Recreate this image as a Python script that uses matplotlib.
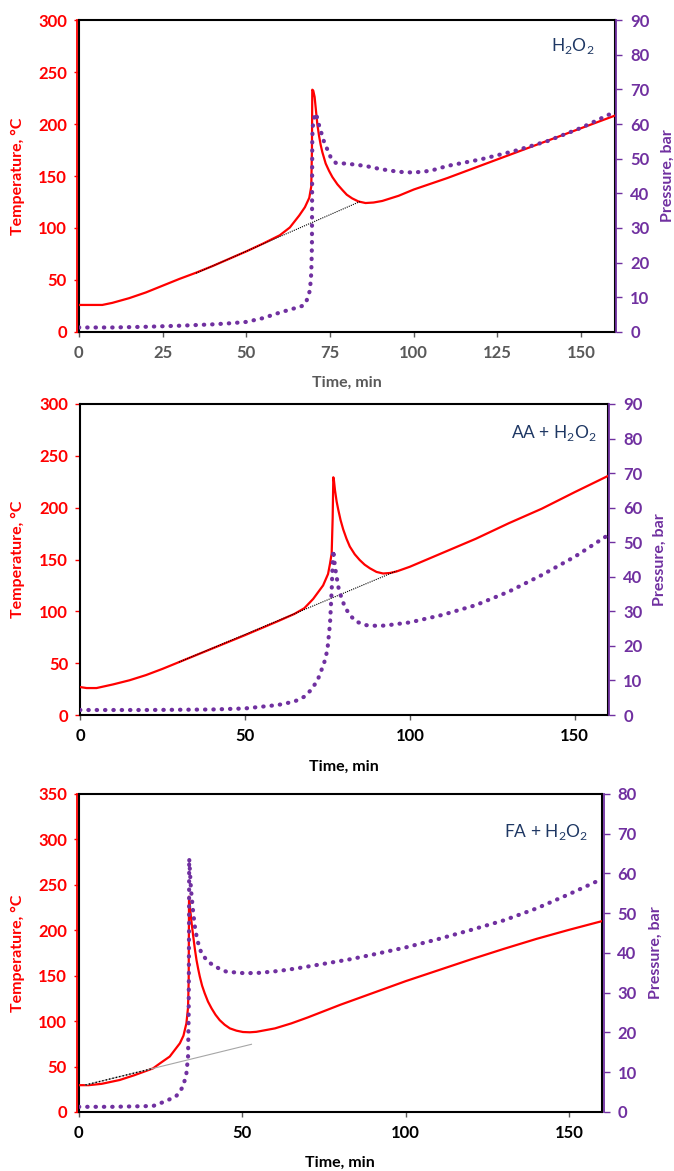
import matplotlib
matplotlib.use("Agg")
import matplotlib.pyplot as plt

RED = '#FF0000'
PURPLE = '#7030A0'
NAVY = '#1F3864'
GREY = '#595959'

# --- panel 1: H2O2 ---
h2o2_t_temp = [0, 7, 10, 15, 20, 25, 30, 35, 40, 45, 50, 55, 60, 63, 65.8, 67.5, 68.8,
               69.4, 69.6, 69.7, 70.0, 70.4, 70.8, 71.2, 71.7, 72.2, 72.7, 73.7, 74.7,
               75.7, 77.2, 78.7, 80, 81.6, 83.5, 85.6, 88, 90.6, 95.5, 100, 110, 120,
               130, 140, 150, 160]
h2o2_temp = [26, 26, 28, 32.5, 38, 44.5, 51, 57, 63.5, 70.5, 77.5, 85, 93, 100.5, 112, 120, 129,
             140, 175, 233, 232, 226, 213, 200, 189, 180, 173, 162, 155,
             149, 142, 136.5, 132, 128.5, 125.5, 124, 124.5, 126, 131, 137, 148, 160,
             172, 184, 196, 208]
h2o2_t_pres = [0, 10, 20, 30, 40, 45, 50, 55, 60, 65, 67, 68, 69.0, 69.4, 69.6, 69.65, 69.7,
               69.8, 70.3, 70.8, 71.7, 73.2, 75.2, 76.7, 80.6, 85.6, 90, 95.5, 100, 105,
               110, 120, 130, 140, 150, 160]
h2o2_pres = [1.3, 1.3, 1.5, 1.8, 2.2, 2.5, 2.9, 4.0, 5.6, 7.0, 7.6, 9.0, 12, 17, 25, 40, 55,
             59, 62, 63.1, 59.7, 54.9, 50.4, 48.8, 48.5, 47.9, 47.0, 46.2, 46.0, 46.5,
             47.9, 49.8, 52.2, 55.1, 58.9, 63.5]
h2o2_base_t = [35, 84]
h2o2_base_temp = [56.5, 125.5]

# --- panel 2: AA + H2O2 ---
aa_t_temp = [0, 2, 5, 10, 15, 20, 25, 30, 40, 50, 60, 65, 68, 70.7, 73.7, 75.2, 75.8, 76.3,
             76.6, 76.8, 77.0, 77.3, 77.8, 78.3, 79, 79.8, 80.8, 81.8, 83.3, 84.8, 86.3,
             87.9, 89.9, 91.9, 94, 96, 100, 110, 120, 130, 140, 150, 160]
aa_temp = [27, 26, 26, 29.5, 33.5, 38.5, 44.5, 51, 64, 77, 90.5, 97.5, 103, 112, 125, 136, 146,
           156, 190, 229.3, 226, 217, 206, 198, 188, 179, 170, 162.5, 155, 149.5, 145,
           141.5, 138, 136.5, 137, 138.5, 143, 156.5, 170, 185, 199, 215, 230.5]
aa_t_pres = [0, 20, 40, 50, 60, 65, 68, 70, 72, 74, 75, 75.8, 76.3, 76.6, 76.8, 77.3, 78.3,
             79.3, 80.3, 81.8, 83.8, 86.8, 90, 92.9, 95, 100, 110, 120, 130, 140, 150, 160]
aa_pres = [1.45, 1.45, 1.6, 1.9, 2.9, 3.9, 5.3, 7.2, 10, 15, 18.8, 26.5, 36, 44, 47.7, 42.9,
           37.1, 33.8, 31.3, 28.9, 27, 26, 25.8, 25.9, 26.2, 26.8, 29, 31.8, 35.7, 40.5,
           45.8, 52]
aa_base_t = [30, 96]
aa_base_temp = [51, 139]

# --- panel 3: FA + H2O2 ---
fa_t_temp = [0, 3, 7, 12.5, 17, 22.7, 25, 27.8, 30.9, 32, 32.9, 33.4, 33.6, 33.7, 34.0, 34.5,
             35, 35.5, 36, 36.5, 37, 37.7, 38.5, 39.5, 40.6, 41.8, 43.1, 44.6, 46.2, 48.2,
             50.2, 52.3, 54.3, 60, 65, 70, 75, 80, 90, 100, 110, 120, 130, 140, 150, 160]
fa_temp = [29.5, 29.5, 31, 35.2, 40.5, 48, 54, 61, 75.6, 84, 97.6, 115, 145, 237, 225, 207.7,
           193, 179, 167, 157.5, 149, 139, 130.6, 121.5, 114, 107, 101, 96, 92, 89.5,
           88, 87.7, 88.2, 92, 97.5, 104, 111, 118, 131, 144, 156, 168, 179.5, 190.5,
           200.5, 210]
fa_t_pres = [0, 10, 22.7, 26.8, 29.8, 31.9, 32.9, 33.4, 33.6, 33.7, 33.75, 34.3, 35, 35.5,
             36.2, 37.5, 39.5, 42.1, 45.1, 50.7, 55.3, 61.4, 66.5, 73, 82.9, 90, 100,
             110, 120, 130, 140, 150, 160]
fa_pres = [1.3, 1.3, 1.5, 2.8, 4, 6.4, 9.7, 13.9, 24.8, 45, 63.8, 56, 50, 46.6, 43.3, 39.9,
           37.8, 36.4, 35.3, 34.9, 35, 35.5, 36.1, 37, 38.4, 39.6, 41.4, 43.5, 45.8, 48.2,
           51.2, 54.8, 58.6]
fa_base_t = [2, 52.8]
fa_base_temp = [29.7, 74.5]
fa_fit_t = [2, 22]
fa_fit_temp = [29.7, 47.3]


def draw_panel(fig, rect, t_temp, temp, t_pres, pres, label, label_xy,
               temp_max, pres_max, xticks, xcolor, red_spine, ylab_x, yrlab_x, xlab_y):
    ax = fig.add_axes(rect)
    ax2 = ax.twinx()

    ax.plot(t_temp, temp, color=RED, lw=1.6, zorder=3)
    ax2.plot(t_pres, pres, color=PURPLE, lw=3.0, linestyle=(0, (0.1, 1.9)),
             dash_capstyle='round', zorder=3)

    ax.set_xlim(0, 160)
    ax.set_ylim(0, temp_max)
    ax2.set_ylim(0, pres_max)
    ax.set_xticks(xticks)
    ax.set_yticks(range(0, temp_max + 1, 50))
    ax2.set_yticks(range(0, pres_max + 1, 10))

    for s in ax.spines.values():
        s.set_color('black')
        s.set_linewidth(1.5)
    for s in ('top', 'bottom'):
        ax2.spines[s].set_visible(False)
    ax2.spines['right'].set_color(PURPLE)
    ax2.spines['right'].set_linewidth(1.3)
    ax2.spines['right'].set_position(('outward', 1.2))
    if red_spine:
        ax2.spines['left'].set_color(RED)
        ax2.spines['left'].set_linewidth(1.3)
        ax2.spines['left'].set_position(('outward', 1.2))
    else:
        ax2.spines['left'].set_visible(False)

    ax.tick_params(axis='y', colors=RED, direction='out', length=3.5, width=1,
                   labelsize=12, pad=5)
    ax.tick_params(axis='x', colors=GREY, direction='out', length=3.5, width=1,
                   labelsize=12, pad=6, labelcolor=xcolor)
    ax2.tick_params(axis='y', colors=PURPLE, direction='out', length=4, width=1,
                    labelsize=12, pad=6)
    for lab in ax.get_xticklabels() + ax.get_yticklabels() + ax2.get_yticklabels():
        lab.set_fontweight('bold')

    ax.set_xlabel('Time, min', fontsize=11.5, fontweight='bold', color=xcolor, va='center')
    ax.xaxis.set_label_coords(0.5, xlab_y)
    ax.set_ylabel('Temperature, °C', fontsize=11.5, fontweight='bold', color=RED, va='center')
    ax.yaxis.set_label_coords(ylab_x, 0.5)
    ax2.set_ylabel('Pressure, bar', fontsize=11.5, fontweight='bold', color=PURPLE, va='center')
    ax2.yaxis.set_label_coords(yrlab_x, 0.5)

    ax.text(label_xy[0], label_xy[1], label, transform=ax.transAxes, ha='right',
            va='center', fontsize=12.5, color=NAVY)
    return ax


def main():
    plt.rcParams['font.family'] = ['Lato', 'DejaVu Sans']
    plt.rcParams['mathtext.fontset'] = 'custom'
    plt.rcParams['mathtext.rm'] = 'Lato'

    fig = plt.figure(figsize=(6.74, 11.71), dpi=100)

    ax = draw_panel(fig, [0.117, 0.7165, 0.795, 0.2664], h2o2_t_temp, h2o2_temp,
                    h2o2_t_pres, h2o2_pres, r'H$_\mathrm{2}$O$_\mathrm{2}$', (0.963, 0.917),
                    300, 90, range(0, 151, 25), GREY, True, -0.114, 1.099, -0.163)
    ax.plot(h2o2_base_t, h2o2_base_temp, color='black', lw=0.8, linestyle=(0, (1, 1)), zorder=4)

    ax = draw_panel(fig, [0.1187, 0.3894, 0.783, 0.2656], aa_t_temp, aa_temp,
                    aa_t_pres, aa_pres, r'AA + H$_\mathrm{2}$O$_\mathrm{2}$', (0.98, 0.908),
                    300, 90, range(0, 151, 50), 'black', False, -0.117, 1.098, -0.166)
    ax.plot(aa_base_t, aa_base_temp, color='black', lw=0.8, linestyle=(0, (1, 1)), zorder=4)

    ax = draw_panel(fig, [0.117, 0.0504, 0.776, 0.2716], fa_t_temp, fa_temp,
                    fa_t_pres, fa_pres, r'FA + H$_\mathrm{2}$O$_\mathrm{2}$', (0.973, 0.881),
                    350, 80, range(0, 151, 50), 'black', True, -0.117, 1.103, -0.160)
    ax.plot(fa_base_t, fa_base_temp, color='#A6A6A6', lw=0.8, zorder=4)
    ax.plot(fa_fit_t, fa_fit_temp, color='black', lw=1.0, linestyle=(0, (1, 1.5)), zorder=4)

    fig.savefig('out.png', dpi=100)


if __name__ == "__main__":
    main()
